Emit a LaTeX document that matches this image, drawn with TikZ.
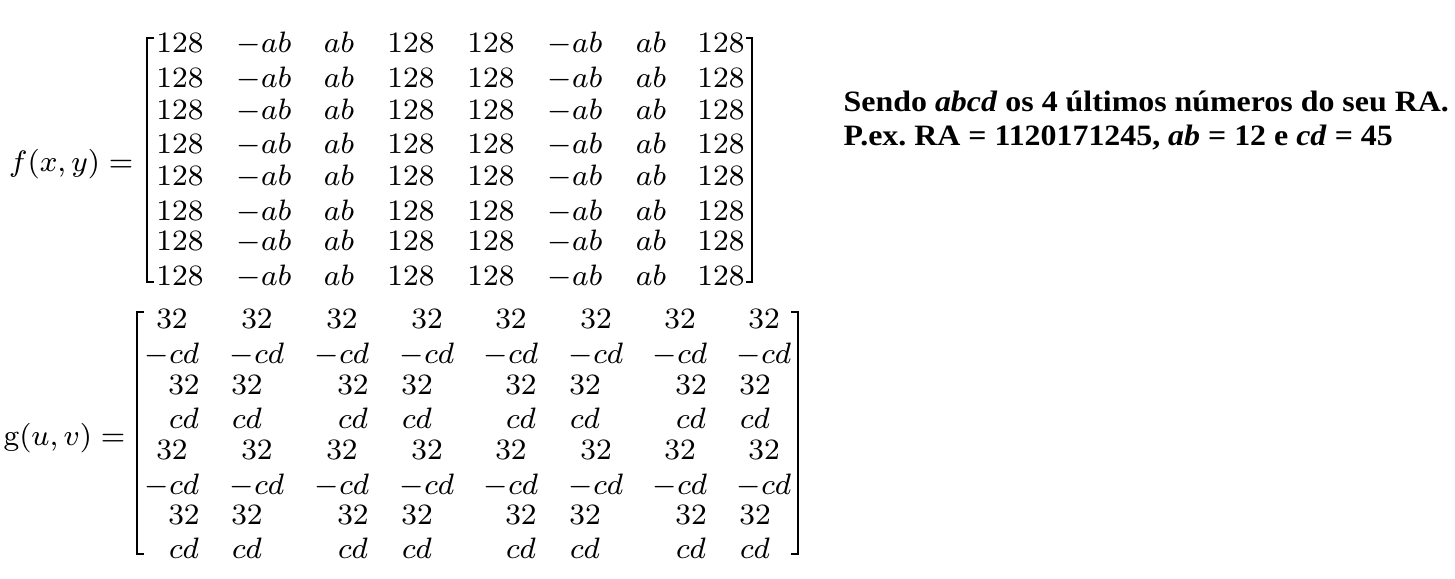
\documentclass[tikz,border=0pt]{standalone}
\usepackage{fix-cm}
\usepackage{fontspec}
\newfontfamily\notefont[FakeStretch=1.08]{Liberation Serif}
\tikzset{
  ent/.style={inner sep=0pt,anchor=base,font=\fontsize{8.4}{10}\selectfont},
  brk/.style={line width=0.6pt},
  note/.style={inner sep=0pt,anchor=base west,font=\notefont\bfseries\fontsize{8.4}{10}\selectfont}
}
\frenchspacing
\begin{document}
\begin{tikzpicture}[x=0.01cm,y=-0.01cm]
\useasboundingbox (0,0) rectangle (1455,578);
% f(x,y)
\node[ent,anchor=base east] (flab) at (134,171) {$f(x,y) =$};
\draw[brk] (154,38) -- (147,38) -- (147,282) -- (154,282);
\draw[brk] (746,38) -- (752,38) -- (752,282) -- (746,282);
\foreach \y [count=\i] in {52.5,87,119,153.5,185,220,250,285}{
  \node[ent] (f\i-1) at (180,\y) {$128$};
  \node[ent] (f\i-2) at (264,\y) {$-ab$};
  \node[ent] (f\i-3) at (339,\y) {$ab$};
  \node[ent] (f\i-4) at (411,\y) {$128$};
  \node[ent] (f\i-5) at (491,\y) {$128$};
  \node[ent] (f\i-6) at (575,\y) {$-ab$};
  \node[ent] (f\i-7) at (651,\y) {$ab$};
  \node[ent] (f\i-8) at (721,\y) {$128$};
}
% g(u,v)
\node[ent,anchor=base east] (glab) at (126,445) {$\mathrm{g}(u,v) =$};
\draw[brk] (144,312) -- (137,312) -- (137,554) -- (144,554);
\draw[brk] (791,312) -- (798,312) -- (798,554) -- (791,554);
\foreach \ya/\yb/\yc/\yd [count=\k] in {328/363/394/428,459/494/524/558}{
  \foreach \x/\xx [count=\j] in {172/184,257/247,342/353,427/417,511/521,596/585,680/691,764/755}{
    \node[ent] (g\k a\j) at (\x,\ya) {$32$};
    \node[ent] (g\k b\j) at (\x,\yb) {$-cd$};
    \node[ent] (g\k c\j) at (\xx,\yc) {$32$};
    \node[ent] (g\k d\j) at (\xx,\yd) {$cd$};
  }
}
% note
\node[note] (line1) at (843,111.7) {Sendo \textit{abcd} os 4 últimos números do seu RA.};
\node[note] (line2) at (843,145) {P.ex. RA = 1120171245, \textit{ab} = 12 e \textit{cd} = 45};
\end{tikzpicture}
\end{document}
